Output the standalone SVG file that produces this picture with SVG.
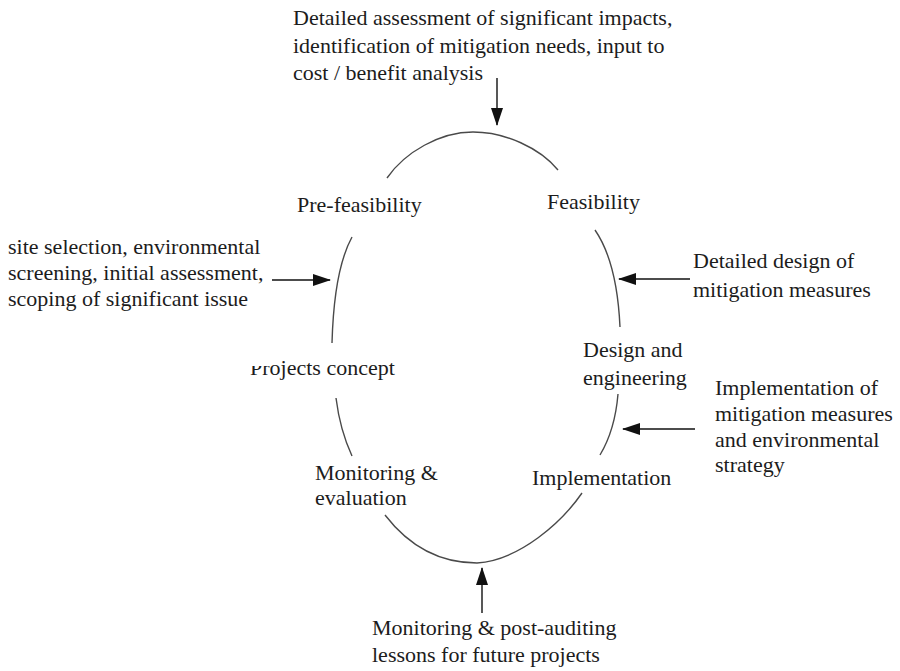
<svg xmlns="http://www.w3.org/2000/svg" width="900" height="671" viewBox="0 0 900 671">
  <defs>
    <style>
      text { font-family: "Liberation Serif", "Times New Roman", serif; font-size: 22px; fill: #1c1c1c; }
      .arc { fill: none; stroke: #4a4a4a; stroke-width: 1.4; }
      .arrow { fill: none; stroke: #111; stroke-width: 1.4; marker-end: url(#head); }
    </style>
    <marker id="head" markerUnits="userSpaceOnUse" markerWidth="18" markerHeight="12" refX="17" refY="6" orient="auto">
      <path d="M0,0 L18,6 L0,12 z" fill="#111"/>
    </marker>
    <!-- the first letters of the concept label lose their upper part -->
    <clipPath id="conceptClip" clipPathUnits="userSpaceOnUse">
      <rect x="270" y="340" width="160" height="50"/>
      <rect x="240" y="366" width="30" height="24"/>
    </clipPath>
  </defs>

  <rect width="900" height="671" fill="#ffffff"/>

  <!-- cycle arcs -->
  <g id="cycle">
    <path class="arc" d="M387,178 C405,152 440,132 473,132 C505,132 540,148 558,170"/>
    <path class="arc" d="M595,230 Q617,262 620,327"/>
    <path class="arc" d="M618,394 Q615,430 600,455"/>
    <path class="arc" d="M385,515 C412,550 445,563 477,563 C520,560 562,522 582,493"/>
    <path class="arc" d="M336,398 Q340,430 352,456"/>
    <path class="arc" d="M352,237 Q334,270 332,343"/>
  </g>

  <!-- stage labels -->
  <g id="prefeasibility"><text x="297" y="212">Pre-feasibility</text></g>
  <g id="feasibility"><text x="547" y="209">Feasibility</text></g>
  <g id="design"><text x="583" y="357">Design and</text><text x="583" y="385">engineering</text></g>
  <g id="implementation"><text x="532" y="485">Implementation</text></g>
  <g id="monitoring"><text x="315" y="480">Monitoring &amp;</text><text x="315" y="505">evaluation</text></g>
  <g id="concept"><text x="250" y="375" clip-path="url(#conceptClip)">Projects concept</text></g>

  <!-- input notes -->
  <g id="note-top">
    <text x="293" y="25">Detailed assessment of significant impacts,</text>
    <text x="293" y="52.5">identification of mitigation needs, input to</text>
    <text x="293" y="80">cost / benefit analysis</text>
  </g>
  <g id="note-left">
    <text x="8" y="254">site selection, environmental</text>
    <text x="8" y="280">screening, initial assessment,</text>
    <text x="8" y="306">scoping of significant issue</text>
  </g>
  <g id="note-design">
    <text x="693" y="268">Detailed design of</text>
    <text x="693" y="297">mitigation measures</text>
  </g>
  <g id="note-implementation">
    <text x="715" y="395">Implementation of</text>
    <text x="715" y="421">mitigation measures</text>
    <text x="715" y="447">and environmental</text>
    <text x="715" y="472">strategy</text>
  </g>
  <g id="note-bottom">
    <text x="372" y="635">Monitoring &amp; post-auditing</text>
    <text x="372" y="662">lessons for future projects</text>
  </g>

  <!-- connectors -->
  <g id="connectors">
    <line class="arrow" x1="497" y1="78" x2="497" y2="125"/>
    <line class="arrow" x1="272" y1="280" x2="330" y2="280"/>
    <line class="arrow" x1="690" y1="279" x2="619" y2="279"/>
    <line class="arrow" x1="695" y1="429" x2="623" y2="429"/>
    <line class="arrow" x1="482" y1="613" x2="482" y2="568"/>
  </g>
</svg>
